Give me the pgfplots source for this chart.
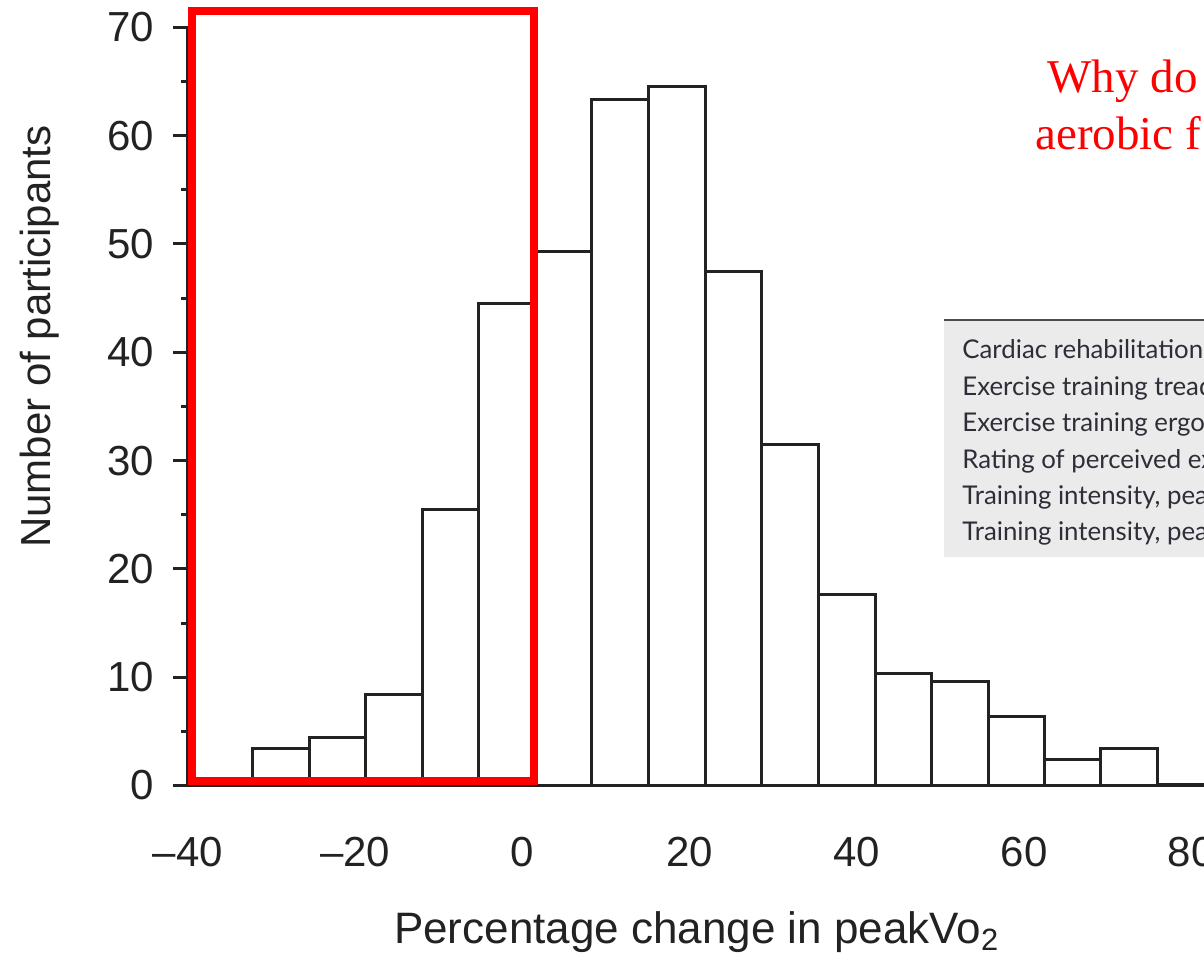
\documentclass[border=0pt]{standalone}
\usepackage{pgfplots}
\pgfplotsset{compat=1.18}
\usepackage{fontspec}
\setmainfont{Liberation Sans}
\newfontfamily\timesf{Liberation Serif}
\newfontfamily\tablef{Lato}
\definecolor{barline}{HTML}{222222}
\definecolor{tabbg}{HTML}{EBEBEB}
\definecolor{tabtext}{HTML}{2E2E38}
\begin{document}
\begin{tikzpicture}
\path[use as bounding box] (0,0) rectangle (602pt,478pt);
% table snippet in background
\fill[tabbg] (472pt,199.5pt) rectangle (610pt,318pt);
\draw[black!70, line width=1pt] (472pt,318pt) -- (610pt,318pt);
\foreach \t [count=\i from 0] in {Cardiac rehabilitation,Exercise training treadmill,Exercise training ergometer,Rating of perceived exertion,{Training intensity, peak},{Training intensity, peak}}{
  \node[anchor=base west, inner sep=0pt, text=tabtext, font=\tablef\fontsize{12.9}{15}\selectfont] at (481pt, {(956-359-36.4*\i)*0.5pt}) {\t};
}
\begin{axis}[
  at={(94pt,85.25pt)}, anchor=south west,
  x=4.18pt, y=5.415pt,
  xmin=-40, xmax=84, ymin=0, ymax=70,
  axis x line=bottom, axis y line=left,
  axis line style={-, line width=2pt, barline},
  xtick={-40,-20,0,20,40,60,80},
  xticklabels={–40,–20,0,20,40,60,80},
  xtick style={draw=none},
  ytick={0,10,...,70},
  minor y tick num=1,
  tick align=outside,
  major tick length=7.5pt,
  minor tick length=3.5pt,
  ytick style={line width=1.5pt, barline},
  tick label style={font=\fontsize{21}{25}\selectfont, text=barline},
  /pgf/number format/assume math mode=true,
  xticklabel style={anchor=base, yshift=-33.25pt},
  yticklabel style={xshift=-6pt},
  ylabel={Number of participants},
  xlabel={Percentage change in peakVo\textsubscript{2}},
  every axis y label/.style={at={(axis description cs:-0.1435,0.592)}, rotate=90, anchor=center, font=\fontsize{21}{25}\selectfont, text=barline},
  every axis x label/.style={at={(axis description cs:0.192,-0.2078)}, anchor=base west, font=\fontsize{22}{26}\selectfont, text=barline},
  clip=false,
]
\addplot[ybar interval, fill=white, draw=barline, line width=1.5pt] coordinates {
(-32.3,3.4) (-25.5,4.4) (-18.8,8.4) (-12.0,25.5) (-5.2,44.5) (1.5,49.3)
(8.3,63.3) (15.1,64.5) (21.9,47.5) (28.6,31.5) (35.4,17.6) (42.2,10.3)
(48.9,9.6) (55.7,6.4) (62.5,2.4) (69.2,3.4) (76.0,3.4)
};
\draw[red, line width=4pt] (axis cs:-39.52,0.42) rectangle (axis cs:1.39,71.5);
\end{axis}
\node[anchor=base west, inner sep=0pt, text=red, font=\timesf\fontsize{23.5}{28}\selectfont] at (523.5pt,431.5pt) {Why do};
\node[anchor=base west, inner sep=0pt, text=red, font=\timesf\fontsize{23.5}{28}\selectfont] at (517.5pt,403pt) {aerobic f};
\end{tikzpicture}
\end{document}
